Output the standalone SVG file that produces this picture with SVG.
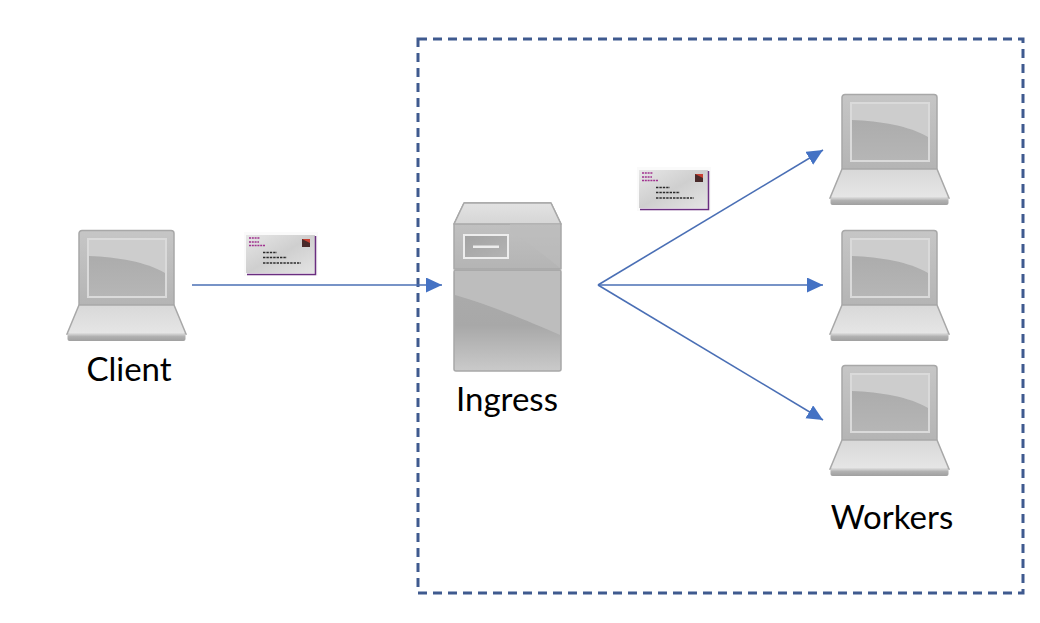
<svg xmlns="http://www.w3.org/2000/svg" width="1040" height="623" viewBox="0 0 1040 623">
<style>
.lbl{font-family:"Lato","Liberation Sans",sans-serif;font-size:33px;fill:#000;text-anchor:middle}
.conn{stroke:#4a6fb5;stroke-width:1.6;fill:none}
.edge{stroke:#a8a8a8;stroke-width:1.5}
.purple{stroke:#a0308f;stroke-width:1.6;stroke-dasharray:2 .8;fill:none}
.ink{stroke:#2c2c2c;stroke-width:1.6;stroke-dasharray:2.4 1;fill:none}
</style>
<defs>
<linearGradient id="gBody" x1="0" y1="0" x2="0" y2="1"><stop offset="0" stop-color="#c6c6c6"/><stop offset="1" stop-color="#b4b4b4"/></linearGradient>
<linearGradient id="gScreen" x1="0" y1="0" x2="0" y2="1"><stop offset="0" stop-color="#a8a8a8"/><stop offset="1" stop-color="#b6b6b6"/></linearGradient>
<linearGradient id="gDeck" x1="0" y1="0" x2="0" y2="1"><stop offset="0" stop-color="#d8d8d8"/><stop offset="1" stop-color="#e6e6e6"/></linearGradient>
<linearGradient id="gFront" x1="0" y1="0" x2="0" y2="1"><stop offset="0" stop-color="#e0e0e0"/><stop offset="0.45" stop-color="#b0b0b0"/><stop offset="1" stop-color="#a0a0a0"/></linearGradient>
<linearGradient id="gTop" x1="0" y1="0" x2="0" y2="1"><stop offset="0" stop-color="#e2e2e2"/><stop offset="1" stop-color="#d6d6d6"/></linearGradient>
<linearGradient id="gDrawer" x1="0" y1="0" x2="1" y2="1"><stop offset="0" stop-color="#a2a2a2"/><stop offset="1" stop-color="#b4b4b4"/></linearGradient>
<linearGradient id="gCase" x1="0" y1="0" x2="0" y2="1"><stop offset="0" stop-color="#acacac"/><stop offset="0.55" stop-color="#a8a8a8"/><stop offset="1" stop-color="#cacaca"/></linearGradient>
<linearGradient id="gEnv" x1="0" y1="0" x2="1" y2="1"><stop offset="0" stop-color="#e6e6e6"/><stop offset="0.5" stop-color="#cfcfcf"/><stop offset="1" stop-color="#e4e4e4"/></linearGradient>
<marker id="arrow" markerUnits="userSpaceOnUse" markerWidth="18" markerHeight="16" refX="16" refY="7.5" orient="auto"><path d="M0 0L16 7.5L0 15Z" fill="#4472c4"/></marker>
<filter id="soft" x="-5%" y="-5%" width="110%" height="110%"><feGaussianBlur stdDeviation="0.6"/></filter>
<g id="laptop" filter="url(#soft)">
<rect x="12" y="0.5" width="95" height="76" rx="3" fill="url(#gBody)" class="edge"/>
<rect x="21" y="9" width="78" height="58" fill="url(#gScreen)" stroke="#dadada" stroke-width="2"/>
<path d="M22 10H98V43C80 32 50 27 22 26Z" fill="#cdcdcd"/>
<path d="M12 75H107L119 104H0Z" fill="url(#gDeck)" class="edge"/>
<rect x="0.5" y="103" width="118" height="8" rx="2" fill="url(#gFront)"/>
</g>
<g id="envelope" filter="url(#soft)">
<rect x="0" y="-1" width="74" height="44" fill="#fafafa"/>
<rect x="2" y="2" width="69" height="38" fill="url(#gEnv)"/>
<path d="M3 41.5H71.5V3" fill="none" stroke="#6b2f80" stroke-width="1.5"/>
<path class="purple" d="M5 5H16M5 9H15M5 12.5H21"/>
<path class="ink" d="M19 19.5H33M19 24.5H43M19 30H57"/>
<rect x="58" y="6" width="8" height="8" fill="#4a2a2a"/><path d="M58 6h8v4z" fill="#c84030"/>
</g>
</defs>
<g id="boundary"><rect x="418" y="39" width="605" height="554" fill="none" stroke="#3f5a8f" stroke-width="3" stroke-dasharray="9 6"/></g>
<g id="connectors">
<path class="conn" d="M192 285H442" marker-end="url(#arrow)"/>
<path class="conn" d="M598 285L823 150" marker-end="url(#arrow)"/>
<path class="conn" d="M598 285H823" marker-end="url(#arrow)"/>
<path class="conn" d="M598 285L823 420" marker-end="url(#arrow)"/>
</g>
<g id="client"><use href="#laptop" x="67" y="230"/><text class="lbl" x="129" y="381">Client</text></g>
<g id="message-1"><use href="#envelope" x="244" y="233"/></g>
<g id="ingress">
<g filter="url(#soft)">
<path d="M454 224L464 203H551L561 224V269H454Z" fill="url(#gBody)" class="edge" stroke-linejoin="round"/>
<path d="M454 224L464 203H551L561 224Z" fill="url(#gTop)" class="edge" stroke-linejoin="round"/>
<rect x="454" y="270" width="107" height="101" rx="2" fill="url(#gCase)" class="edge"/>
<path d="M455 295C490 305 530 322 560 335V271H455Z" fill="#bdbdbd"/>
<path d="M510 224H560V268C540 252 525 240 510 232Z" fill="#bdbdbd" opacity=".6"/>
<rect x="464" y="235" width="44" height="23" fill="url(#gDrawer)" stroke="#ededed" stroke-width="2"/>
<rect x="473" y="245.500" width="26" height="2.500" fill="#ededed"/>
</g>
<text class="lbl" x="507" y="411">Ingress</text>
</g>
<g id="message-2"><use href="#envelope" x="637" y="168"/></g>
<g id="worker-1"><use href="#laptop" x="830" y="94"/></g>
<g id="worker-2"><use href="#laptop" x="830" y="230"/></g>
<g id="worker-3"><use href="#laptop" x="830" y="365"/></g>
<text class="lbl" x="892" y="529">Workers</text>
</svg>
